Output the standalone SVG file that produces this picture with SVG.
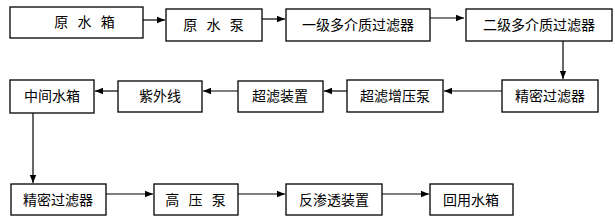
<svg xmlns="http://www.w3.org/2000/svg" width="615" height="222" viewBox="0 0 615 222">
<style>
rect.b{fill:#fff;stroke:#000;stroke-width:1.3}
text{font-family:"Noto Sans CJK SC","Noto Sans CJK JP",sans-serif;font-size:14px;fill:#000;text-anchor:middle}
text.s{letter-spacing:3px}
.c line{stroke:#000;stroke-width:1.2;fill:none}
</style>
<defs>
<marker id="a" viewBox="0 0 10 10" refX="10" refY="5" markerWidth="8" markerHeight="8" markerUnits="userSpaceOnUse" orient="auto"><path d="M0,1 L10,5 L0,9 z" fill="#000"/></marker>
</defs>
<rect width="615" height="222" fill="#fff"/>
<g class="c">
<line x1="143" y1="20" x2="165" y2="20" marker-end="url(#a)"/>
<line x1="262" y1="19" x2="285" y2="19" marker-end="url(#a)"/>
<line x1="430" y1="18" x2="464" y2="18" marker-end="url(#a)"/>
<line x1="563" y1="41" x2="563" y2="79" marker-end="url(#a)"/>
<line x1="502" y1="91" x2="444" y2="91" marker-end="url(#a)"/>
<line x1="347" y1="91" x2="324" y2="91" marker-end="url(#a)"/>
<line x1="238" y1="91" x2="203" y2="91" marker-end="url(#a)"/>
<line x1="118" y1="91" x2="95" y2="91" marker-end="url(#a)"/>
<line x1="33" y1="113" x2="33" y2="183" marker-end="url(#a)"/>
<line x1="106" y1="194" x2="153" y2="194" marker-end="url(#a)"/>
<line x1="238" y1="194" x2="285" y2="194" marker-end="url(#a)"/>
<line x1="382" y1="194" x2="429" y2="194" marker-end="url(#a)"/>
</g>
<g id="n1"><rect class="b" x="10" y="7" width="133" height="31"/><text class="s" x="86" y="27">原 水 箱</text></g>
<g id="n2"><rect class="b" x="166" y="9" width="96" height="32"/><text class="s" x="215" y="30">原 水 泵</text></g>
<g id="n3"><rect class="b" x="286" y="9" width="144" height="32"/><text x="358" y="30">一级多介质过滤器</text></g>
<g id="n4"><rect class="b" x="466" y="9" width="146" height="32"/><text x="539" y="30">二级多介质过滤器</text></g>
<g id="n5"><rect class="b" x="502" y="80" width="96" height="32"/><text x="550" y="101">精密过滤器</text></g>
<g id="n6"><rect class="b" x="347" y="80" width="96" height="32"/><text x="395" y="101">超滤增压泵</text></g>
<g id="n7"><rect class="b" x="238" y="81" width="85" height="31"/><text x="280" y="101">超滤装置</text></g>
<g id="n8"><rect class="b" x="118" y="81" width="84" height="31"/><text x="160" y="101">紫外线</text></g>
<g id="n9"><rect class="b" x="10" y="80" width="84" height="33"/><text x="52" y="101">中间水箱</text></g>
<g id="n10"><rect class="b" x="11" y="184" width="95" height="31"/><text x="58" y="205">精密过滤器</text></g>
<g id="n11"><rect class="b" x="154" y="184" width="84" height="31"/><text class="s" x="197" y="205">高 压 泵</text></g>
<g id="n12"><rect class="b" x="286" y="184" width="96" height="31"/><text x="334" y="205">反渗透装置</text></g>
<g id="n13"><rect class="b" x="430" y="184" width="83" height="31"/><text x="471" y="205">回用水箱</text></g>
</svg>
